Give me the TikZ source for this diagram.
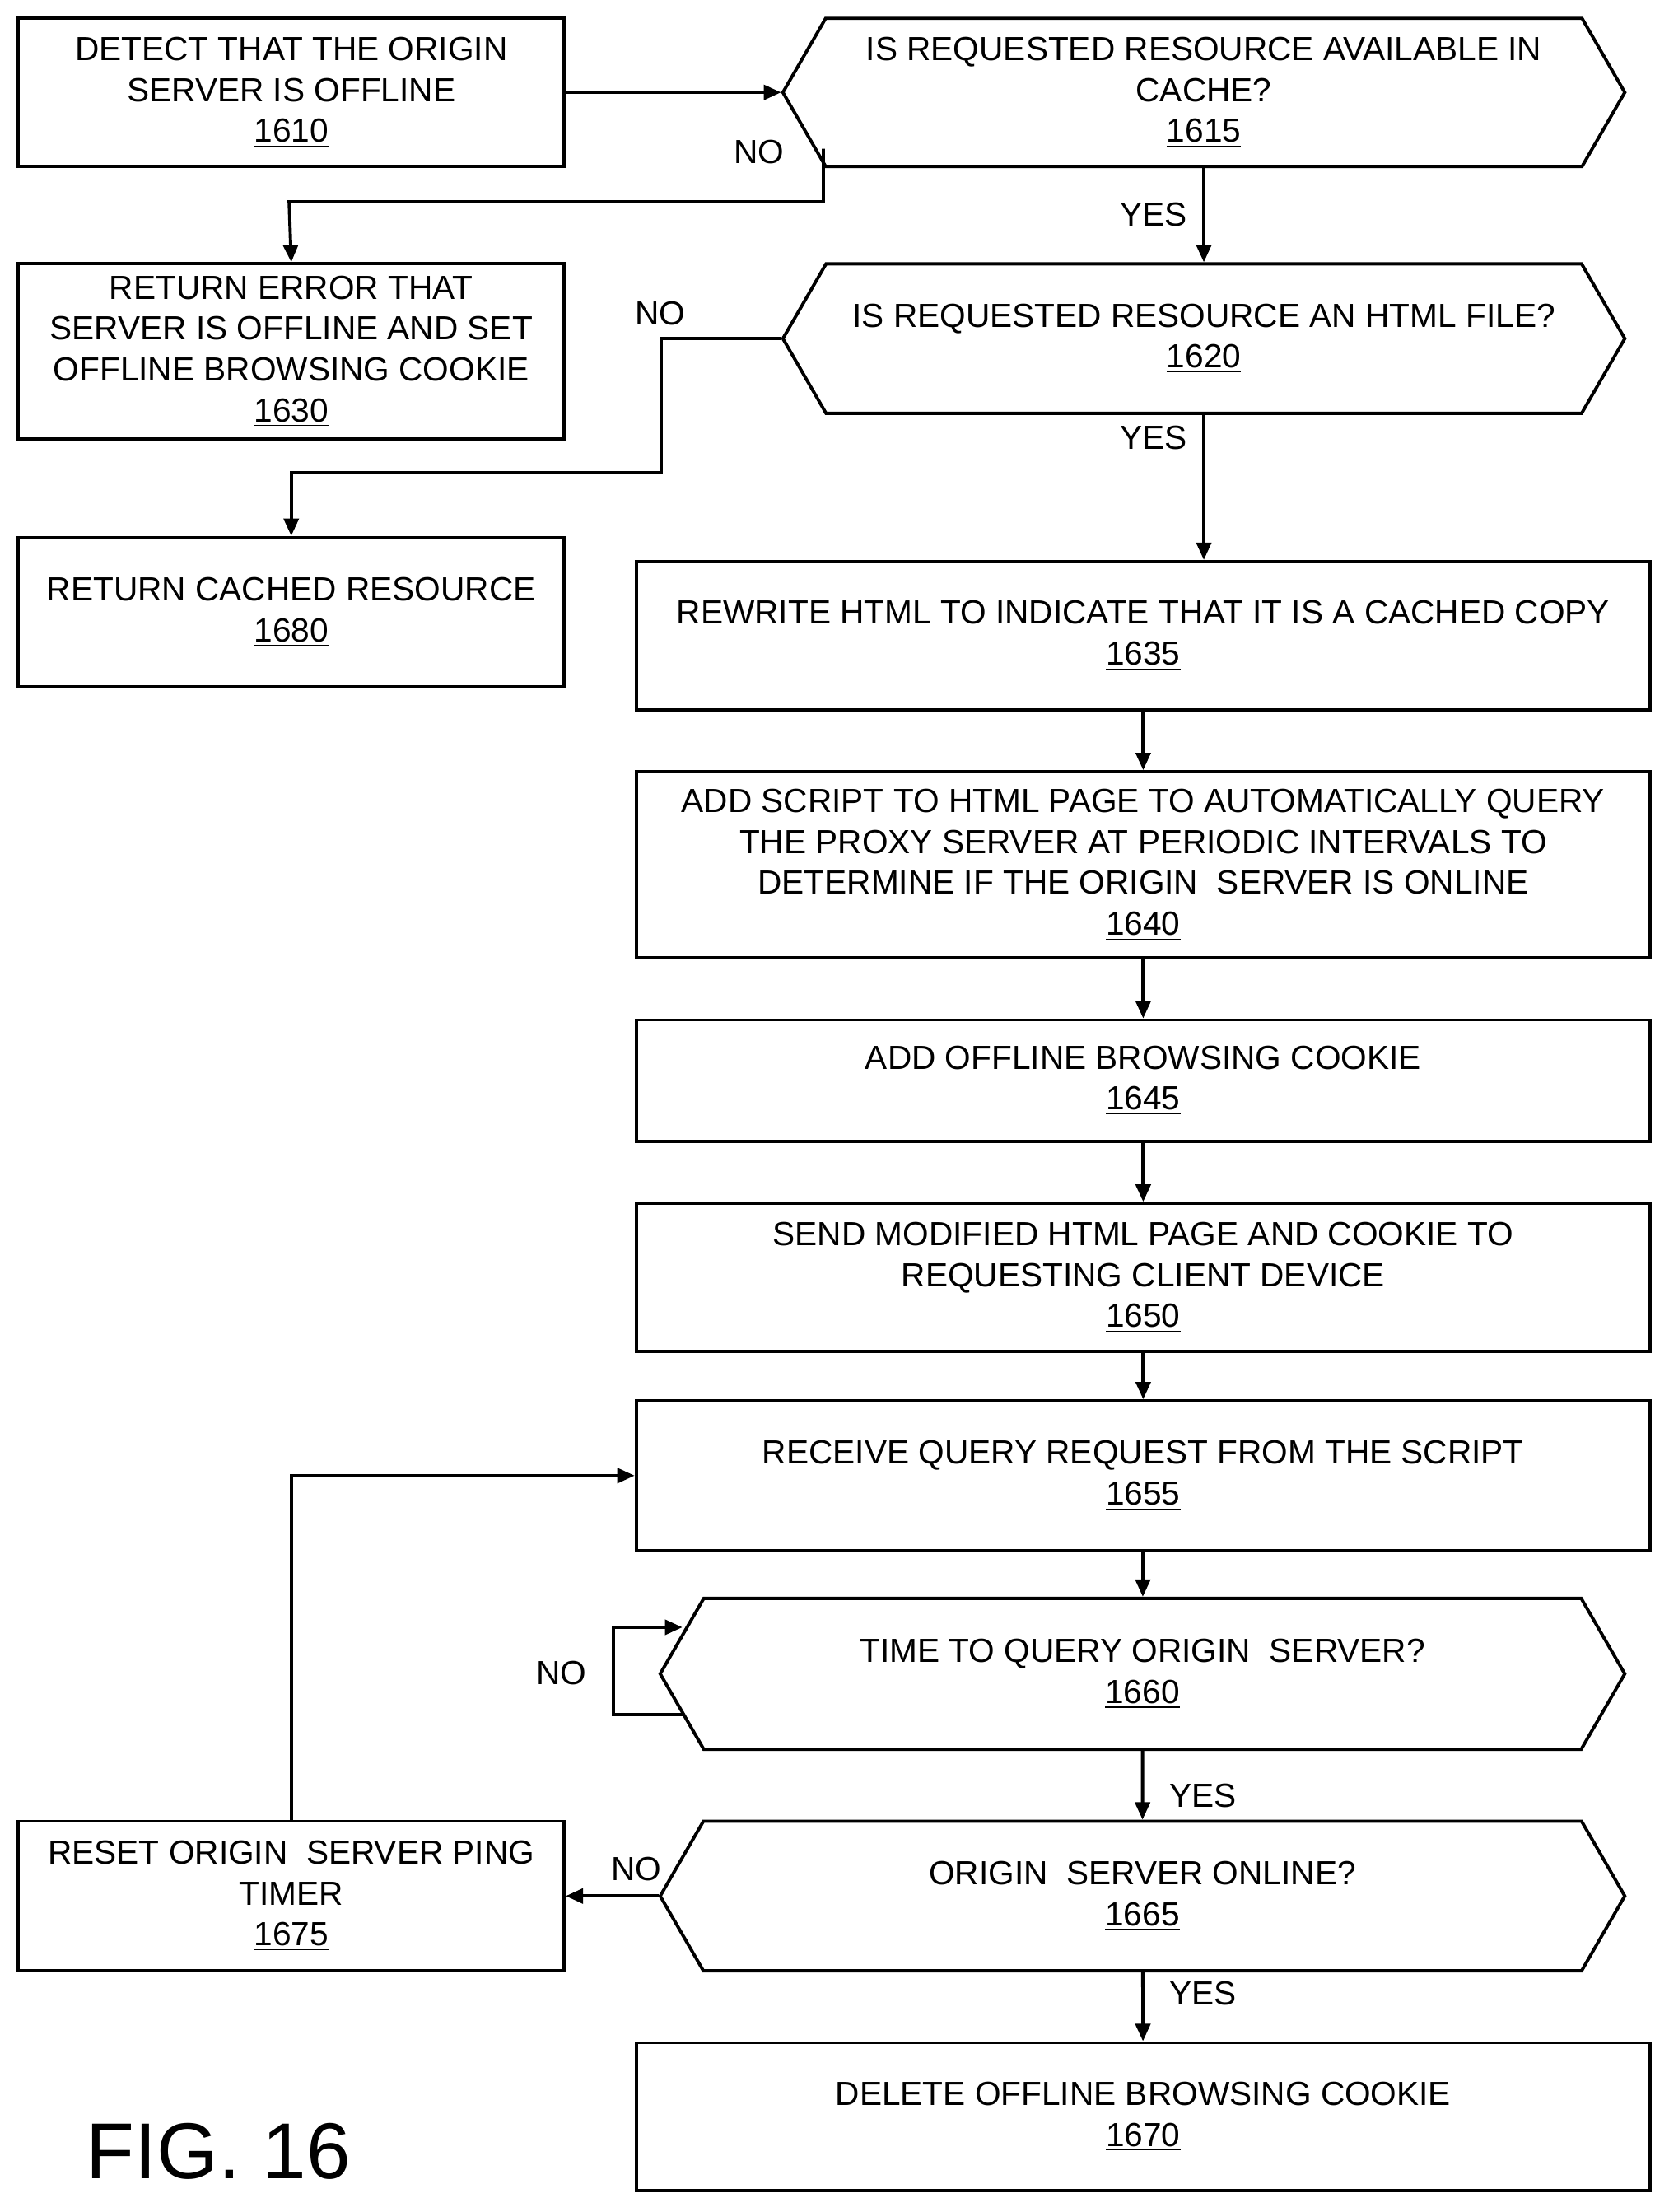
\documentclass[tikz,border=0pt]{standalone}
\usepackage{fontspec}
\setmainfont{Liberation Sans}
\usetikzlibrary{shapes.symbols,arrows.meta,calc}
\begin{document}
\begin{tikzpicture}[x=0.02cm,y=-0.02cm,
  every node/.style={font=\fontsize{13.5}{16.5}\selectfont,align=center,inner sep=0},
  box/.style={draw,line width=1.3pt,minimum width=7.74cm},
  wbox/.style={draw,line width=1.3pt,minimum width=14.38cm},
  hex/.style={draw,line width=1.3pt,shape=signal,signal to=west and east,signal pointer angle=120},
  arr/.style={line width=1.3pt,-{Triangle[length=7pt,width=6pt]}},
  lab/.style={font=\fontsize{13.5}{16.5}\selectfont}]
\useasboundingbox (0,0) rectangle (1183,1568);
\node[box,minimum height=2.1cm] (n1610) at (206.5,65.5) {DETECT THAT THE ORIGIN\\SERVER IS OFFLINE\\\underline{1610}};
\node[hex,minimum width=11.94cm,minimum height=2.1cm] (n1615) at (853.5,65.5) {IS REQUESTED RESOURCE AVAILABLE IN\\CACHE?\\\underline{1615}};
\node[box,minimum height=2.48cm] (n1630) at (206.5,249) {RETURN ERROR THAT\\SERVER IS OFFLINE AND SET\\OFFLINE BROWSING COOKIE\\\underline{1630}};
\node[hex,minimum width=11.94cm,minimum height=2.12cm] (n1620) at (853.5,240) {IS REQUESTED RESOURCE AN HTML FILE?\\\underline{1620}};
\node[box,minimum height=2.12cm] (n1680) at (206.5,434) {RETURN CACHED RESOURCE\\\underline{1680}};
\node[wbox,minimum height=2.1cm] (n1635) at (810.5,450.5) {REWRITE HTML TO INDICATE THAT IT IS A CACHED COPY\\\underline{1635}};
\node[wbox,minimum height=2.64cm] (n1640) at (810.5,613) {ADD SCRIPT TO HTML PAGE TO AUTOMATICALLY QUERY\\THE PROXY SERVER AT PERIODIC INTERVALS TO\\DETERMINE IF THE ORIGIN\ \ SERVER IS ONLINE\\\underline{1640}};
\node[wbox,minimum height=1.72cm] (n1645) at (810.5,766) {ADD OFFLINE BROWSING COOKIE\\\underline{1645}};
\node[wbox,minimum height=2.1cm] (n1650) at (810.5,905.5) {SEND MODIFIED HTML PAGE AND COOKIE TO\\REQUESTING CLIENT DEVICE\\\underline{1650}};
\node[wbox,minimum height=2.12cm] (n1655) at (810.5,1046) {RECEIVE QUERY REQUEST FROM THE SCRIPT\\\underline{1655}};
\node[hex,minimum width=13.68cm,minimum height=2.14cm] (n1660) at (810,1186.5) {TIME TO QUERY ORIGIN\ \ SERVER?\\\underline{1660}};
\node[hex,minimum width=13.68cm,minimum height=2.12cm] (n1665) at (810,1344) {ORIGIN\ \ SERVER ONLINE?\\\underline{1665}};
\node[box,minimum height=2.12cm] (n1675) at (206.5,1344) {RESET ORIGIN\ \ SERVER PING\\TIMER\\\underline{1675}};
\node[wbox,minimum height=2.1cm] (n1670) at (810.5,1500.5) {DELETE OFFLINE BROWSING COOKIE\\\underline{1670}};
\node[font=\fontsize{32}{36}\selectfont] (fig) at (155,1525) {FIG. 16};

\draw[arr] (n1610.east) -- (n1615.west);
\coordinate (c1) at ($(n1615.west)+(30,40)$);
\draw[arr] (c1) |- (205,143) -- (n1630.north);
\node[lab] (l1) at (538,108) {NO};
\draw[arr] (n1615.south) -- (n1620.north);
\node[lab] (l2) at (818,152) {YES};
\draw[arr] (n1620.west) -- (469,240) -- (469,335) -| (n1680.north);
\node[lab] (l3) at (468,222) {NO};
\draw[arr] (n1620.south) -- (n1635.north -| n1620.south);
\node[lab] (l4) at (818,310) {YES};
\draw[arr] (n1635) -- (n1640);
\draw[arr] (n1640) -- (n1645);
\draw[arr] (n1645) -- (n1650);
\draw[arr] (n1650) -- (n1655);
\draw[arr] (n1655) -- (n1660);
\coordinate (c2) at ($(n1660.west)+(17,29)$);
\coordinate (c3) at ($(n1660.west)+(17,-33)$);
\draw[arr] (c2) -- (435,1215.5) -- (435,1153.5) -- (c3);
\node[lab] (l5) at (398,1186) {NO};
\draw[arr] (n1660) -- (n1665);
\node[lab] (l6) at (853,1273) {YES};
\draw[arr] (n1665.west) -- (n1675.east);
\node[lab] (l7) at (451,1325) {NO};
\draw[arr] (n1675.north) |- (n1655.west);
\draw[arr] (n1665) -- (n1670);
\node[lab] (l8) at (853,1413) {YES};
\end{tikzpicture}
\end{document}
